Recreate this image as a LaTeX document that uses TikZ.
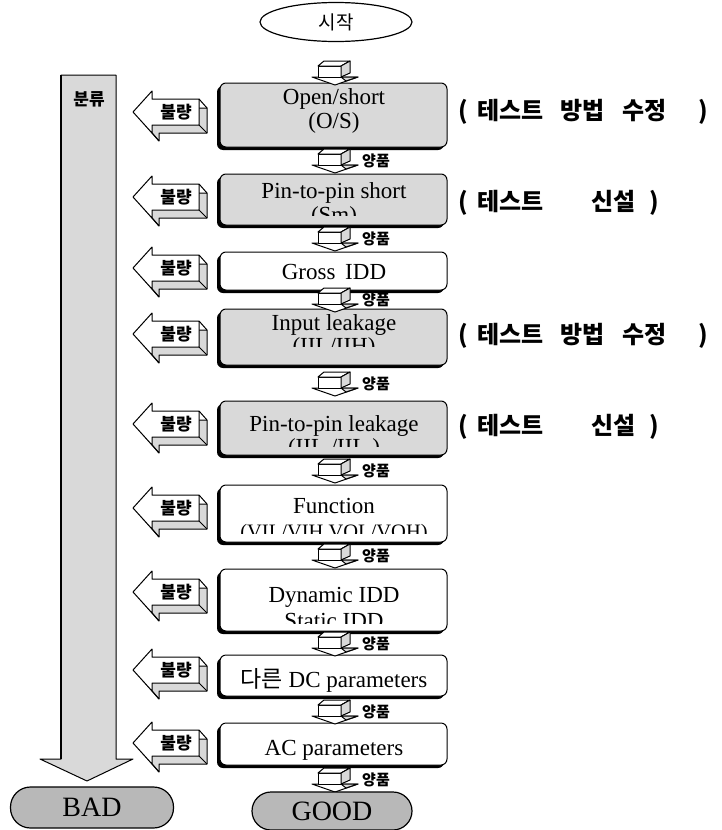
\documentclass[tikz,border=0pt]{standalone}
\usepackage{fontspec}
\setmainfont{Liberation Serif}
\newfontfamily\kr{Noto Sans CJK KR}
\usetikzlibrary{shapes.geometric}
\tikzset{
  dotfill/.style={fill=black!15},
  ln/.style={line width=1pt, line join=round},
  boxtext/.style={font=\fontsize{23}{23}\selectfont, inner sep=0pt, anchor=base},
  okst/.style={font=\kr\bfseries\fontsize{15}{15}\selectfont, anchor=west, inner sep=0pt},
  ngst/.style={font=\kr\bfseries\fontsize{17}{17}\selectfont, inner sep=0pt},
  note/.style={font=\kr\bfseries\fontsize{24}{24}\selectfont, anchor=west, inner sep=0pt},
  capsule/.style={draw, line width=1.2pt, fill=black!28, font=\fontsize{28}{28}\selectfont},
}
% small 3D down arrow shape
\newcommand\cubearr[1]{%
  \draw[ln,fill=white] (312,#1+5) -- (358,#1+5) -- (335,#1+13) -- cycle;
  \draw[ln,dotfill] (341,#1+5) -- (358,#1+5) -- (346,#1+9) -- cycle;
  \draw[ln,fill=white] (318,#1-6) rectangle (341,#1+5);
  \draw[ln,fill=white] (318,#1-6) -- (324,#1-11) -- (350,#1-11) -- (341,#1-6) -- cycle;
  \draw[ln,dotfill] (341,#1-6) -- (350,#1-11) -- (350,#1+1) -- (341,#1+5) -- cycle;}
% with label "yangpum"
\newcommand\okarr[2]{\cubearr{#2}\node[okst] (#1) at (362,#2+1) {양품};}
% 3D left arrow "bullyang"
\newcommand\ngarr[2]{%
  \draw[ln,dotfill] (141,#2+8) -- (159,#2-12) -- (159,#2-4) -- (207,#2-4) -- (207,#2+21) -- (159,#2+21) -- (159,#2+29) -- cycle;
  \draw[ln,fill=white] (133,#2) -- (152,#2-21) -- (152,#2-13) -- (199,#2-13) -- (199,#2+13) -- (152,#2+13) -- (152,#2+21) -- cycle;
  \draw[ln] (199,#2-13) -- (207,#2-4) (199,#2+13) -- (207,#2+21) (152,#2+21) -- (159,#2+29);
  \node[ngst] (#1) at (176,#2) {불량};}
% box background with left/bottom shadow
\newcommand\tbx[3]{%
  \fill[black,rounded corners=6pt] (217,#1+3) rectangle (444,#2+3);
  \fill[#3,rounded corners=6pt] (220,#1) rectangle (447,#2);}
\newcommand\tbxedge[2]{\draw[line width=1pt,rounded corners=6pt] (220,#1) rectangle (447,#2);}
\begin{document}
\begin{tikzpicture}[x=1pt,y=-1pt]
\useasboundingbox (0,0) rectangle (722,830);

% classification column arrow
\draw[ln,dotfill] (61,75) -- (116,75) -- (116,759) -- (133,759) -- (87,781) -- (40,759) -- (61,759) -- cycle;
\draw[line width=2.2pt] (61,75) -- (61,759);
\node[ngst] (cls) at (89,99) {분류};

% start
\node[ellipse, draw, line width=1.2pt, minimum width=152pt, minimum height=39pt, inner sep=0pt,
      font=\kr\fontsize{19}{19}\selectfont] (start) at (336,22) {시작};

% box 1
\tbx{83}{147}{black!15}
\node[boxtext] (b1a) at (334,104) {Open/short};
\node[boxtext] (b1b) at (334,128) {(O/S)};
\tbxedge{83}{147}

% box 2
\tbx{174}{225}{black!15}
\begin{scope}
\clip (220,174) rectangle (447,215);
\node[boxtext] (b2a) at (334,198) {Pin-to-pin short};
\node[boxtext] (b2b) at (334,222) {(Sm)};
\end{scope}
\tbxedge{174}{225}

% box 3
\tbx{252}{290}{white}
\node[boxtext] (b3a) at (334,279) {Gross\hspace{4pt} IDD};
\tbxedge{252}{290}

% box 4
\tbx{309}{365}{black!15}
\begin{scope}
\clip (220,309) rectangle (447,346);
\node[boxtext] (b4a) at (334,330) {Input leakage};
\node[boxtext] (b4b) at (334,353) {(IIL/IIH)};
\end{scope}
\tbxedge{309}{365}

% box 5
\tbx{401}{455}{black!15}
\begin{scope}
\clip (220,401) rectangle (447,446);
\node[boxtext] (b5a) at (334,431) {Pin-to-pin leakage};
\node[boxtext] (b5b) at (334,454) {(IIL /IIL )};
\end{scope}
\tbxedge{401}{455}

% box 6
\tbx{485}{542}{white}
\begin{scope}
\clip (220,485) rectangle (447,533);
\node[boxtext] (b6a) at (334,513) {Function};
\node[boxtext, font=\fontsize{20.5}{20.5}\selectfont] (b6b) at (334,538) {(VIL/VIH VOL/VOH)};
\end{scope}
\tbxedge{485}{542}

% box 7
\tbx{569}{631}{white}
\begin{scope}
\clip (220,569) rectangle (447,623);
\node[boxtext] (b7a) at (334,602) {Dynamic IDD};
\node[boxtext] (b7b) at (334,628) {Static IDD};
\end{scope}
\tbxedge{569}{631}

% box 8
\tbx{655}{696}{white}
\node[boxtext] (b8a) at (334,687) {{\kr 다른} DC parameters};
\tbxedge{655}{696}

% box 9
\tbx{723}{765}{white}
\node[boxtext] (b9a) at (334,755) {AC parameters};
\tbxedge{723}{765}

% pass arrows
\cubearr{72}
\okarr{ok1}{160}
\okarr{ok2}{238}
\okarr{ok3}{299}
\okarr{ok4}{383}
\okarr{ok5}{470}
\okarr{ok6}{555}
\okarr{ok7}{643}
\okarr{ok8}{711}
\okarr{ok9}{779}

% fail arrows
\ngarr{ng1}{112}
\ngarr{ng2}{197}
\ngarr{ng3}{268}
\ngarr{ng4}{334}
\ngarr{ng5}{424}
\ngarr{ng6}{508}
\ngarr{ng7}{592}
\ngarr{ng8}{670}
\ngarr{ng9}{743}

% terminals
\node[capsule, rounded corners=20pt, minimum width=163pt, minimum height=41pt] (bad) at (92,807.5) {BAD};
\node[capsule, rounded corners=19pt, minimum width=160pt, minimum height=38pt] (good) at (332,811) {GOOD};

% notes
\node[note] (n1) at (458,112) {(\hspace{10pt}테스트\hspace{16pt}방법\hspace{18pt}수정\hspace{32pt})};
\node[note] (n2) at (458,203) {(\hspace{10pt}테스트\hspace{47pt}신설\hspace{14pt})};
\node[note] (n4) at (458,336) {(\hspace{10pt}테스트\hspace{16pt}방법\hspace{18pt}수정\hspace{32pt})};
\node[note] (n5) at (458,427) {(\hspace{10pt}테스트\hspace{47pt}신설\hspace{14pt})};
\end{tikzpicture}
\end{document}
